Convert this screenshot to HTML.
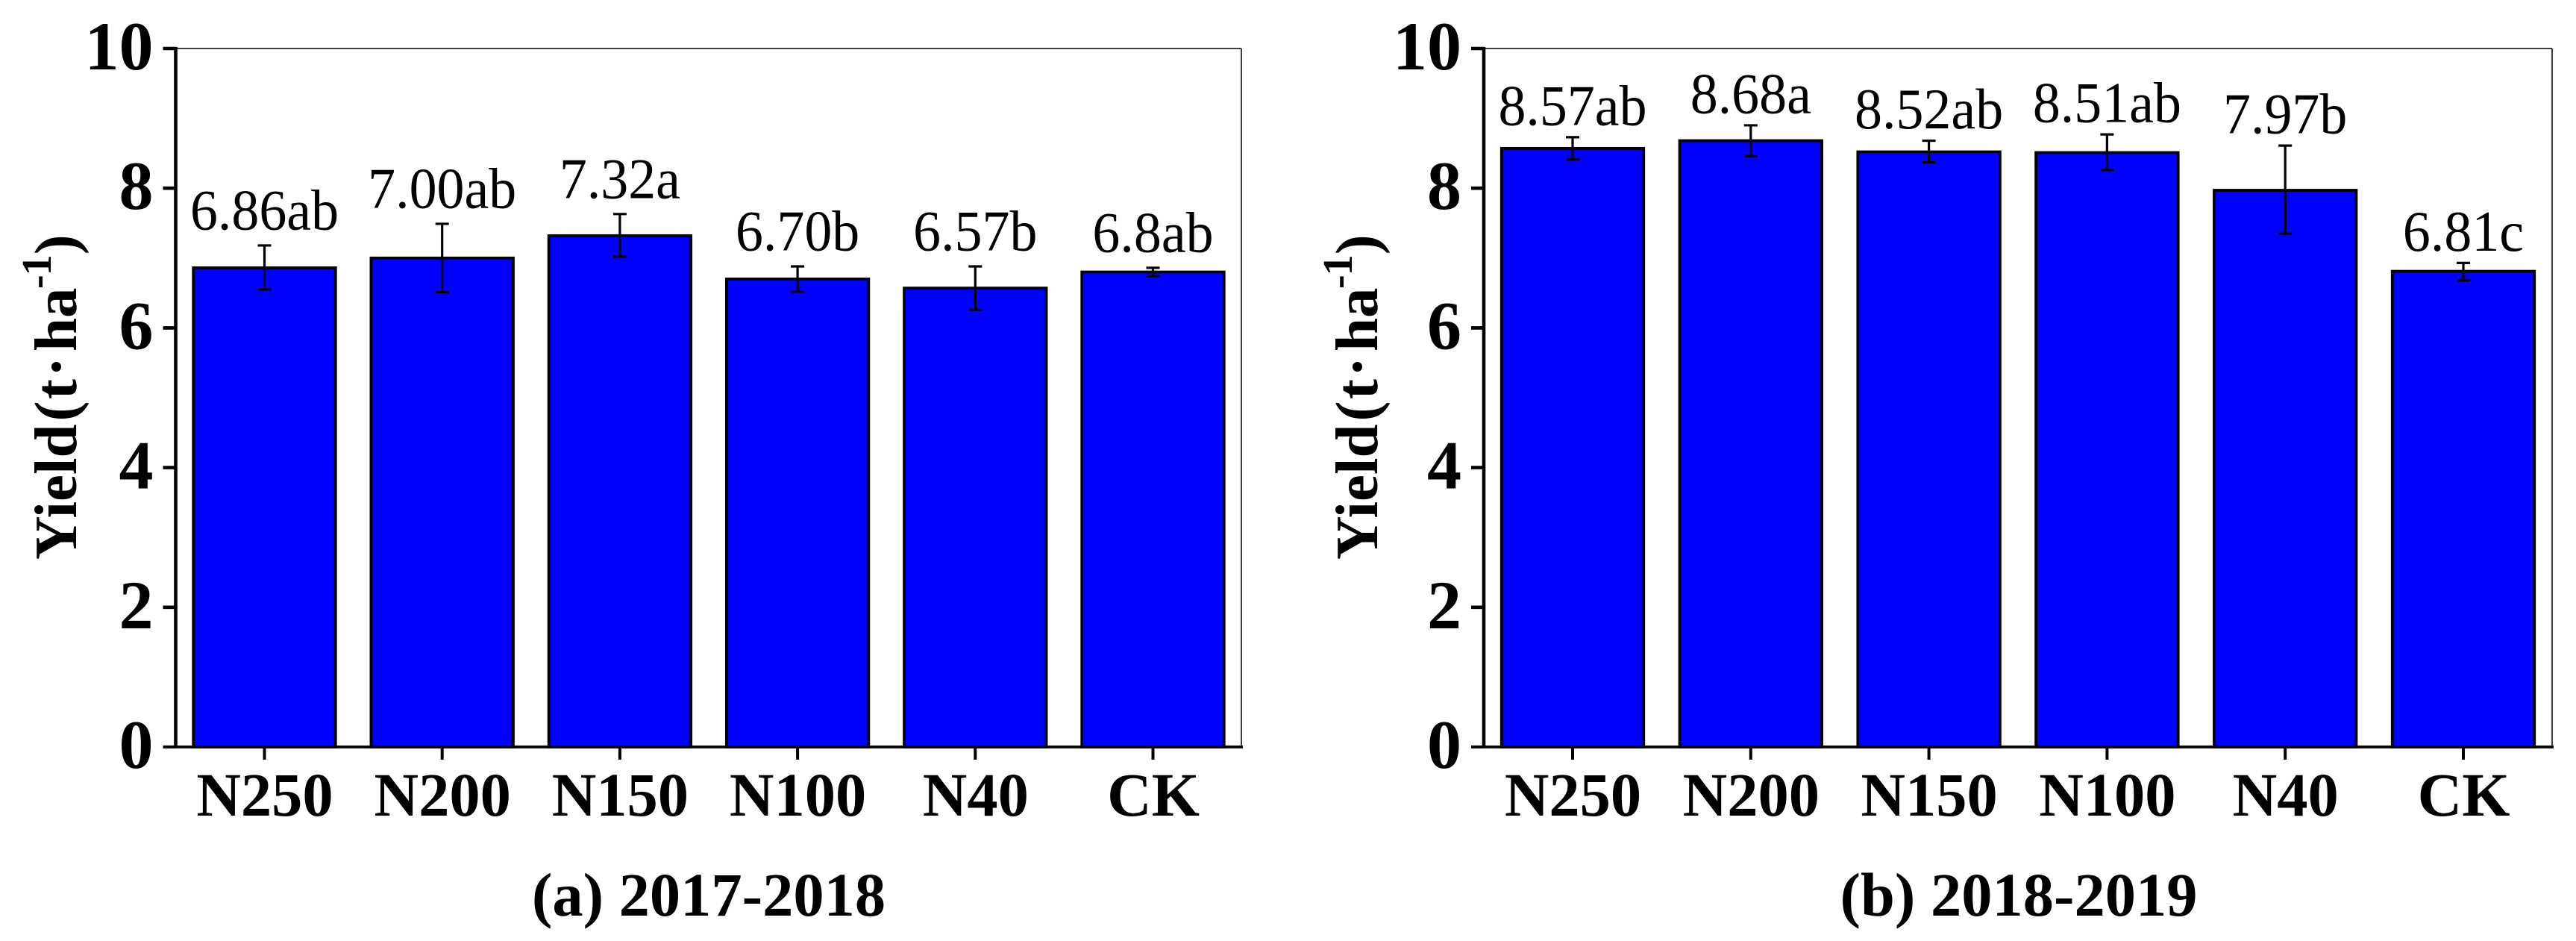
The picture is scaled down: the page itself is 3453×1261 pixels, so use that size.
<!DOCTYPE html>
<html lang="en">
<head>
<meta charset="utf-8">
<title>Yield by nitrogen treatment</title>
<style>
html,body{margin:0;padding:0;background:#fff;width:3453px;height:1261px;overflow:hidden}
svg{display:block}
text{font-family:"Liberation Serif","Times New Roman",serif;fill:#000}
.bold{font-weight:bold}
</style>
</head>
<body>
<svg id="chart" xmlns="http://www.w3.org/2000/svg" width="3453" height="1261" viewBox="0 0 3453 1261"></svg>
<script>
const categories = ['N250', 'N200', 'N150', 'N100', 'N40', 'CK'];
const yTickLabels = [0, 2, 4, 6, 8, 10];

const valuesA = [6.86, 7.00, 7.32, 6.70, 6.57, 6.80];
const errHighA = [7.18, 7.49, 7.63, 6.88, 6.88, 6.86];
const errLowA = [6.55, 6.51, 7.02, 6.52, 6.26, 6.74];
const printedA = ['6.86ab', '7.00ab', '7.32a', '6.70b', '6.57b', '6.8ab'];

const valuesB = [8.57, 8.68, 8.52, 8.51, 7.97, 6.81];
const errHighB = [8.73, 8.90, 8.68, 8.77, 8.61, 6.93];
const errLowB = [8.41, 8.46, 8.37, 8.26, 7.35, 6.68];
const printedB = ['8.57ab', '8.68a', '8.52ab', '8.51ab', '7.97b', '6.81c'];

const svg = document.getElementById('chart');
const NS = 'http://www.w3.org/2000/svg';
const yMax = 10;
const plotTop = 65;
const plotBottom = 1001;

function mk(tag, attrs, parent, txt) {
  const el = document.createElementNS(NS, tag);
  for (const k in attrs) el.setAttribute(k, attrs[k]);
  if (txt !== undefined) el.textContent = txt;
  parent.appendChild(el);
  return el;
}

function drawPanel(cfg) {
  const yScale = v => plotBottom - (v / yMax) * (plotBottom - plotTop);
  const xScale = i => cfg.firstCenter + i * cfg.step;

  const g = mk('g', {}, svg);
  
  

  const frameTop = mk('line', {x1: cfg.axisX, x2: cfg.rightX, y1: plotTop, y2: plotTop, stroke: '#000', 'stroke-width': 1.5}, g);
  
  

  const frameRight = mk('line', {x1: cfg.rightX, x2: cfg.rightX, y1: plotTop, y2: plotBottom, stroke: '#000', 'stroke-width': 1.5}, g);
  
  

  cfg.values.forEach((v, i) => {
    const cx = xScale(i);
    const top = yScale(v);

    const bar = mk('rect', {x: cx - cfg.barW / 2, y: top, width: cfg.barW, height: plotBottom - top, fill: '#0000ff', stroke: '#000', 'stroke-width': 3.8}, g);
    
    

    const hi = yScale(cfg.errHigh[i]);
    const lo = yScale(cfg.errLow[i]);

    const stem = mk('line', {x1: cx, x2: cx, y1: hi, y2: lo, stroke: '#000', 'stroke-width': 3.2}, g);
    
    

    const capTop = mk('line', {x1: cx - 9, x2: cx + 9, y1: hi, y2: hi, stroke: '#000', 'stroke-width': 3.2}, g);
    
    

    const capBottom = mk('line', {x1: cx - 9, x2: cx + 9, y1: lo, y2: lo, stroke: '#000', 'stroke-width': 3.2}, g);
    
    

    const label = mk('text', {transform: 'translate(' + cx + ',' + (hi - cfg.labelGap) + ') scale(0.96,1)', 'text-anchor': 'middle', 'font-size': 77}, g, cfg.printed[i]);
    
    

    const xt = mk('line', {x1: cx, x2: cx, y1: plotBottom, y2: 1018, stroke: '#000', 'stroke-width': 4}, g);
    
    

    const xl = mk('text', {x: cx + 0.5, y: 1093, 'text-anchor': 'middle', 'font-size': 82.5, class: 'bold'}, g, categories[i]);
    
    
  });

  yTickLabels.forEach(t => {
    const y = yScale(t);

    const tick = mk('line', {x1: cfg.axisX - 17, x2: cfg.axisX, y1: y, y2: y, stroke: '#000', 'stroke-width': t === 0 ? 3.8 : 4.6}, g);
    
    

    const lab = mk('text', {x: cfg.axisX - 30, y: y + 28, 'text-anchor': 'end', 'font-size': 92, class: 'bold'}, g, String(t));
    
    
  });

  const yAxis = mk('line', {x1: cfg.axisX, x2: cfg.axisX, y1: plotTop - 2, y2: plotBottom, stroke: '#000', 'stroke-width': 4.6}, g);
  
  

  const xAxis = mk('line', {x1: cfg.axisX - 17, x2: cfg.rightX + 2, y1: plotBottom, y2: plotBottom, stroke: '#000', 'stroke-width': 3.8}, g);
  
  

  const title = mk('text', {transform: 'translate(' + cfg.titleX + ',750) rotate(-90)', 'font-size': 81, class: 'bold'}, g);
  
  
  mk('tspan', {}, title, 'Yield');
  mk('tspan', {dx: 4}, title, '(');
  mk('tspan', {dx: 2.5}, title, 't');
  mk('tspan', {dx: 3}, title, '·');
  mk('tspan', {dx: 7}, title, 'ha');
  mk('tspan', {'font-size': 56, dy: -34, dx: -1.5}, title, '-');
  mk('tspan', {'font-size': 56, dx: -1}, title, '1');
  mk('tspan', {dy: 34, dx: 0}, title, ')');

  const cap = mk('text', {x: cfg.captionX, y: 1227, 'text-anchor': 'middle', 'font-size': 82.5, class: 'bold'}, g, cfg.caption);
  
  
}

drawPanel({
  name: 'panel-a-2017-2018', values: valuesA, errHigh: errHighA, errLow: errLowA, printed: printedA,
  axisX: 235.5, rightX: 1664, firstCenter: 354.5, step: 238.2, barW: 190.5, labelGap: 21.5,
  titleX: 102, captionX: 950, caption: '(a) 2017-2018'
});
drawPanel({
  name: 'panel-b-2018-2019', values: valuesB, errHigh: errHighB, errLow: errLowB, printed: printedB,
  axisX: 1989, rightX: 3421, firstCenter: 2108, step: 238.8, barW: 190.5, labelGap: 16.5,
  titleX: 1846, captionX: 2706, caption: '(b) 2018-2019'
});
</script>
</body>
</html>
